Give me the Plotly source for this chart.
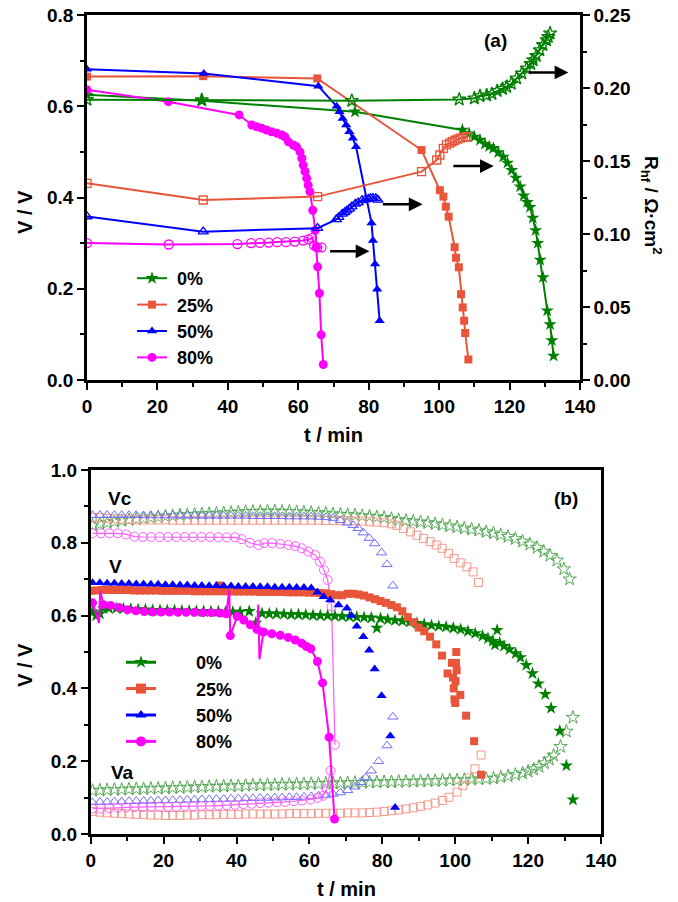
import plotly.graph_objects as go

W, H = 678, 902
FONT = "Liberation Sans, Arial, sans-serif"

# colours
C0, C25, C50, C80 = "#008000", "#E8553A", "#0000FF", "#FF00FF"
C0L, C25L, C50L, C80L = "#56A856", "#F29A8A", "#7070FF", "#FF5CFF"

LEG_NAMES = ["0%", "25%", "50%", "80%"]

# ---------------- panel (a): cell voltage (left) and Rhf (right) ----------------
a_v0_t = [0, 32.6, 76.1, 106.6, 108.5, 110, 111.6, 113, 114.2, 115.4, 116.8, 118.2, 119.4, 120.6,
          121.8, 123, 124, 125, 125.8, 126.6, 127.4, 128, 128.7, 129.5, 130.7, 131.5, 132, 132.5]
a_v0_v = [0.625, 0.612, 0.588, 0.548, 0.54, 0.533, 0.526, 0.517, 0.512, 0.508, 0.499, 0.489, 0.476, 0.46,
          0.443, 0.424, 0.404, 0.39, 0.379, 0.355, 0.328, 0.30, 0.263, 0.225, 0.152, 0.122, 0.087, 0.053]
a_r0_t = [0, 32.6, 75.2, 105.7, 110, 111.6, 113.5, 115, 116.5, 118, 119.2, 120.5, 122, 123.5,
          124.9, 126, 126.7, 127.6, 128.6, 129.5, 130.5, 131, 131.5]
a_r0_r = [0.192, 0.1918, 0.1913, 0.1922, 0.193, 0.1945, 0.195, 0.196, 0.198, 0.1995, 0.2009, 0.203, 0.2066, 0.210,
          0.2135, 0.2165, 0.2192, 0.222, 0.226, 0.2295, 0.2329, 0.235, 0.2375]

a_v25_t = [0, 33, 65.4, 95.0, 100.2, 101.2, 101.9, 102.7, 104.4, 104.8, 105.6, 106.2, 106.7, 107.1, 107.4, 108.3]
a_v25_v = [0.665, 0.666, 0.661, 0.504, 0.416, 0.402, 0.38, 0.358, 0.291, 0.268, 0.247, 0.188, 0.159, 0.13, 0.103, 0.045]
a_r25_t = [0, 33, 65.5, 95, 99.3, 100.2, 101.2, 102.1, 103, 103.7, 104.5, 105.3, 106, 106.8, 107.5, 108]
a_r25_r = [0.1347, 0.1233, 0.1256, 0.1427, 0.1507, 0.1541, 0.1587, 0.161, 0.1622, 0.1632, 0.1642, 0.165,
           0.1657, 0.1662, 0.1664, 0.1666]

a_v50_t = [0, 33.2, 65.7, 70.9, 71.7, 72.6, 73.6, 74.5, 75.5, 76.4, 80.8, 81.2, 81.8, 82.4, 83.1]
a_v50_v = [0.681, 0.672, 0.644, 0.60, 0.588, 0.573, 0.559, 0.544, 0.53, 0.511, 0.344, 0.306, 0.254, 0.199, 0.13]
a_r50_t = [0, 33, 65.5, 70.8, 71.5, 72.5, 73.2, 73.8, 74.5, 75.2, 76.2, 77, 78.1, 79, 79.9, 80.5, 81.2, 82, 82.6]
a_r50_r = [0.112, 0.1016, 0.104, 0.110, 0.1115, 0.1138, 0.1148, 0.116, 0.1172, 0.1188, 0.1207, 0.1215, 0.123,
           0.1236, 0.124, 0.1244, 0.1246, 0.1244, 0.1234]

a_v80_t = [0, 23.1, 43.2, 46.8, 48.2, 49.6, 51, 52.4, 53.9, 55.3, 56.2, 57.2, 58.6, 59.5, 60.5, 61, 61.4,
           61.9, 62.4, 62.8, 63.3, 64.1, 64.8, 65.1, 65.5, 66, 66.5, 67.1]
a_v80_v = [0.636, 0.61, 0.581, 0.559, 0.555, 0.552, 0.548, 0.544, 0.541, 0.537, 0.533, 0.522, 0.515, 0.511,
           0.50, 0.486, 0.471, 0.457, 0.442, 0.427, 0.413, 0.372, 0.328, 0.291, 0.248, 0.19, 0.099, 0.034]
a_r80_t = [0, 23.2, 42.7, 46.6, 49.1, 51.6, 54, 56.5, 59, 61.4, 62.9, 63.9, 64.5, 65.4, 66.6]
a_r80_r = [0.0938, 0.0928, 0.0931, 0.0938, 0.0939, 0.0941, 0.0944, 0.0944, 0.0948, 0.0955, 0.0963, 0.0973,
           0.0921, 0.0909, 0.0909]

# arrows pointing to the right axis (tail t, head t, V level)
arrow_t0 = [125.0, 103.6, 83.6, 68.6]
arrow_t1 = [136.7, 115.5, 95.3, 80.2]
arrow_v = [0.674, 0.469, 0.385, 0.282]

# ---------------- panel (b): V, Vc, Va ----------------
b_v0_t = [0.5, 1.5, 2.5, 3.5, 5, 7, 9, 11, 13, 15, 17, 19, 21, 23, 25, 27, 29, 31, 33, 35, 37, 39, 41, 43.5, 45.3,
          47, 49, 51, 53, 55, 57, 59, 61, 63, 65, 67, 69, 71, 73, 75, 77, 78.5, 79.5, 81.5, 83.5, 85.5, 87.5, 89.5,
          91.5, 93.5, 95.5, 97.5, 99.5, 101.5, 103.5, 105.5, 107.5, 109, 110.3, 110.9, 111.5, 112.2, 113.4, 114.9,
          116.6, 117.9, 119.5, 121.2, 122.8, 124.7, 126.3, 128.7, 130.5, 132.3]
b_v0_v = [0.61, 0.60, 0.605, 0.62, 0.62, 0.62, 0.619, 0.618, 0.617, 0.616, 0.615, 0.615, 0.614, 0.614, 0.613,
          0.613, 0.612, 0.612, 0.611, 0.611, 0.61, 0.61, 0.61, 0.612, 0.58, 0.606, 0.605, 0.605, 0.604, 0.603,
          0.603, 0.602, 0.601, 0.60, 0.60, 0.599, 0.598, 0.597, 0.596, 0.595, 0.594, 0.566, 0.592, 0.589, 0.587,
          0.585, 0.582, 0.579, 0.576, 0.573, 0.571, 0.569, 0.566, 0.562, 0.557, 0.551, 0.544, 0.537, 0.53, 0.52,
          0.56, 0.525, 0.516, 0.507, 0.496, 0.485, 0.464, 0.441, 0.413, 0.384, 0.346, 0.283, 0.188, 0.094]
b_vc0_t = [0.5, 2.5, 4.5, 6.5, 8.5, 10.5, 12.5, 14.5, 16.5, 18.5, 20.5, 22.5, 24.5, 26.5, 28.5, 30.5, 32.5, 34.5,
           36.5, 38.5, 40.5, 42.5, 44.5, 46.5, 48.5, 50.5, 52.5, 54.5, 56.5, 58.5, 60.5, 62.5, 64.5, 66.5, 68.5,
           70.5, 72.5, 74.5, 76.5, 78.5, 80.5, 82.5, 84.5, 86.5, 88.5, 90.5, 92.5, 94.5, 96.5, 98.5, 100.5, 102.5,
           104.5, 106.5, 108.5, 110.5, 112.5, 114.5, 116.5, 118.5, 120.5, 122.5, 124.3, 126, 127.9, 129.8, 131.4]
b_vc0_v = [0.848, 0.852, 0.855, 0.858, 0.861, 0.863, 0.865, 0.867, 0.869, 0.871, 0.873, 0.874, 0.876, 0.877,
           0.878, 0.879, 0.88, 0.881, 0.882, 0.883, 0.884, 0.885, 0.886, 0.886, 0.887, 0.887, 0.886, 0.886, 0.885,
           0.884, 0.883, 0.882, 0.881, 0.879, 0.878, 0.877, 0.876, 0.874, 0.873, 0.871, 0.869, 0.866, 0.863,
           0.861, 0.859, 0.857, 0.855, 0.852, 0.849, 0.846, 0.843, 0.840, 0.837, 0.834, 0.830, 0.826, 0.822,
           0.817, 0.811, 0.804, 0.796, 0.787, 0.776, 0.765, 0.752, 0.728, 0.70]
b_va0_t = [0.5, 2.5, 4.5, 6.5, 8.5, 10.5, 12.5, 14.5, 16.5, 18.5, 20.5, 22.5, 24.5, 26.5, 28.5, 30.5, 32.5, 34.5,
           36.5, 38.5, 40.5, 42.5, 44.5, 46.5, 48.5, 50.5, 52.5, 54.5, 56.5, 58.5, 60.5, 62.5, 64.5, 66.5, 68.5,
           70.5, 72.5, 74.5, 76.5, 78.5, 80.5, 82.5, 84.5, 86.5, 88.5, 90.5, 92.5, 94.5, 96.5, 98.5, 100.5, 102.5,
           104.5, 106.5, 108.5, 110.5, 112.5, 114.5, 116.5, 118.5, 120, 121.5, 123, 124.5, 125.8, 127, 128.9,
           130.5, 132.3]
b_va0_v = [0.119, 0.12, 0.121, 0.122, 0.122, 0.123, 0.124, 0.124, 0.125, 0.125, 0.126, 0.127, 0.127, 0.128,
           0.129, 0.129, 0.13, 0.131, 0.131, 0.132, 0.132, 0.133, 0.134, 0.134, 0.135, 0.135, 0.136, 0.136, 0.137,
           0.137, 0.138, 0.138, 0.139, 0.139, 0.14, 0.14, 0.141, 0.141, 0.142, 0.142, 0.143, 0.143, 0.144, 0.144,
           0.145, 0.145, 0.146, 0.146, 0.147, 0.148, 0.148, 0.149, 0.15, 0.151, 0.152, 0.153, 0.156, 0.159, 0.163,
           0.167, 0.172, 0.178, 0.185, 0.195, 0.205, 0.216, 0.24, 0.282, 0.32]

b_v25_t = [0, 1.5, 3, 4.5, 6, 7.5, 9, 10.5, 12, 13.5, 15, 16.5, 18, 19.5, 21, 22.5, 24, 25.5, 27, 28.5, 30, 31.5,
           33, 34.5, 35.2, 36, 37.5, 39, 40.5, 42, 43.5, 45, 46.5, 48, 49.5, 51, 52.5, 54, 55.5, 57, 58.5, 60, 61.5,
           63, 64.5, 66, 67.5, 69, 70.5, 72, 73.5, 75, 76.5, 78, 79.5, 81, 82.5, 84, 85.5, 87, 88.5, 90, 91.5, 93.1,
           94.8, 96.4, 97.9, 99.1, 99.4, 99.6, 99.8, 100, 100.1, 100.2, 100.3, 100.4, 101.4, 103, 105.2, 107.1]
b_v25_v = [0.668, 0.669, 0.67, 0.67, 0.67, 0.67, 0.67, 0.67, 0.669, 0.669, 0.669, 0.669, 0.669, 0.668, 0.668,
           0.668, 0.668, 0.668, 0.668, 0.667, 0.667, 0.667, 0.667, 0.667, 0.683, 0.667, 0.667, 0.666, 0.666, 0.666,
           0.666, 0.666, 0.665, 0.665, 0.665, 0.665, 0.665, 0.664, 0.664, 0.664, 0.664, 0.663, 0.663, 0.662, 0.661,
           0.659, 0.656, 0.656, 0.66, 0.66, 0.658, 0.655, 0.65, 0.645, 0.64, 0.635, 0.629, 0.623, 0.612, 0.596,
           0.582, 0.567, 0.557, 0.542, 0.521, 0.49, 0.441, 0.47, 0.43, 0.40, 0.37, 0.36, 0.42, 0.47, 0.50, 0.45,
           0.382, 0.325, 0.255, 0.163]
b_vc25_t = [0.5, 2.5, 4.5, 6.5, 8.5, 10.5, 12.5, 14.5, 16.5, 18.5, 20.5, 22.5, 24.5, 26.5, 28.5, 30.5, 32.5, 34.5,
            36.5, 38.5, 40.5, 42.5, 44.5, 46.5, 48.5, 50.5, 52.5, 54.5, 56.5, 58.5, 60.5, 62.5, 64.5, 66.5, 68.5,
            70.5, 72.5, 74.5, 76.5, 78.5, 80.5, 82.5, 84, 85.8, 87.7, 89.5, 91.3, 93.1, 94.8, 96.4, 98.2, 99.7,
            101.4, 103.2, 104.9, 106.4]
b_vc25_v = [0.870, 0.869, 0.867, 0.866, 0.865, 0.864, 0.863, 0.863, 0.863, 0.863, 0.863, 0.862, 0.862, 0.862,
            0.862, 0.862, 0.862, 0.862, 0.862, 0.862, 0.862, 0.862, 0.862, 0.862, 0.862, 0.862, 0.862, 0.862,
            0.862, 0.862, 0.862, 0.862, 0.861, 0.861, 0.861, 0.861, 0.86, 0.86, 0.858, 0.857, 0.855, 0.852,
            0.848, 0.839, 0.83, 0.821, 0.812, 0.803, 0.794, 0.785, 0.771, 0.757, 0.745, 0.734, 0.72, 0.691]
b_va25_t = [0.5, 2.5, 4.5, 6.5, 8.5, 10.5, 12.5, 14.5, 16.5, 18.5, 20.5, 22.5, 24.5, 26.5, 28.5, 30.5, 32.5, 34.5,
            36.5, 38.5, 40.5, 42.5, 44.5, 46.5, 48.5, 50.5, 52.5, 54.5, 56.5, 58.5, 60.5, 62.5, 64.5, 66.5, 68.5,
            70.5, 72.5, 74.5, 76.5, 78.5, 80.5, 82.5, 84.5, 86.5, 88.5, 90.5, 92.5, 94.5, 96.5, 98.3, 100.5, 102.1,
            103.9, 105.4, 107.1]
b_va25_v = [0.062, 0.06, 0.058, 0.057, 0.056, 0.055, 0.054, 0.053, 0.052, 0.052, 0.051, 0.051, 0.051, 0.052,
            0.052, 0.053, 0.053, 0.053, 0.054, 0.054, 0.054, 0.055, 0.055, 0.055, 0.055, 0.055, 0.055, 0.056,
            0.056, 0.056, 0.056, 0.057, 0.057, 0.057, 0.057, 0.058, 0.058, 0.058, 0.059, 0.06, 0.062, 0.064, 0.066,
            0.069, 0.072, 0.076, 0.08, 0.085, 0.092, 0.101, 0.115, 0.133, 0.154, 0.179, 0.217]

b_v50_t = [0.5, 2.5, 4.5, 6.5, 8.5, 10.5, 12.5, 14.5, 16.5, 18.5, 20.5, 22.5, 24.5, 26.5, 28.5, 30.5, 32.5, 34.5,
           36.5, 38.5, 40.5, 42.5, 44.5, 46.5, 48.5, 50.5, 52.5, 54.5, 56.5, 58.5, 60.5, 62.2, 63.9, 65.7, 68,
           70.3, 71.5, 73, 74.8, 76.4, 77.9, 79.8, 82.2, 83.5]
b_v50_v = [0.69, 0.69, 0.689, 0.689, 0.688, 0.688, 0.687, 0.687, 0.686, 0.686, 0.685, 0.685, 0.684, 0.684, 0.683,
           0.683, 0.682, 0.682, 0.681, 0.681, 0.68, 0.68, 0.68, 0.679, 0.679, 0.678, 0.678, 0.678, 0.677, 0.677,
           0.676, 0.664, 0.652, 0.643, 0.629, 0.62, 0.60, 0.571, 0.542, 0.505, 0.453, 0.38, 0.269, 0.073]
b_vc50_t = [0.5, 2.5, 4.5, 6.5, 8.5, 10.5, 12.5, 14.5, 16.5, 18.5, 20.5, 22.5, 24.5, 26.5, 28.5, 30.5, 32.5, 34.5,
            36.5, 38.5, 40.5, 42.5, 44.5, 46.5, 48.5, 50.5, 52.5, 54.5, 56.5, 58.5, 60.5, 62.5, 64.5, 66.5, 68.5,
            70.3, 72, 73.4, 74.8, 76.4, 77.9, 79.8, 81.3, 82.9]
b_vc50_v = [0.876, 0.876, 0.876, 0.876, 0.876, 0.876, 0.876, 0.875, 0.875, 0.875, 0.875, 0.875, 0.875, 0.875,
            0.875, 0.874, 0.874, 0.874, 0.874, 0.874, 0.874, 0.874, 0.873, 0.873, 0.873, 0.873, 0.873, 0.872,
            0.872, 0.872, 0.872, 0.871, 0.87, 0.868, 0.862, 0.855, 0.848, 0.84, 0.828, 0.813, 0.798, 0.773,
            0.741, 0.682]
b_va50_t = [0.5, 2.5, 4.5, 6.5, 8.5, 10.5, 12.5, 14.5, 16.5, 18.5, 20.5, 22.5, 24.5, 26.5, 28.5, 30.5, 32.5, 34.5,
            36.5, 38.5, 40.5, 42.5, 44.5, 46.5, 48.5, 50.5, 52.5, 54.5, 56.5, 58.5, 60.5, 62.5, 64.5, 66.5, 68.5,
            70.5, 72.5, 74, 75.5, 77, 79, 81.3, 82.9]
b_va50_v = [0.087, 0.088, 0.088, 0.089, 0.089, 0.09, 0.09, 0.091, 0.091, 0.092, 0.092, 0.093, 0.093, 0.094,
            0.094, 0.095, 0.095, 0.096, 0.096, 0.097, 0.097, 0.098, 0.098, 0.099, 0.099, 0.1, 0.1, 0.101, 0.101,
            0.102, 0.103, 0.105, 0.107, 0.11, 0.114, 0.12, 0.13, 0.142, 0.155, 0.174, 0.20, 0.243, 0.322]

b_v80_t = [0.5, 3.5, 5.5, 7.8, 10.1, 12.4, 14.7, 17, 19.3, 21.6, 23.9, 26.2, 28.5, 30.8, 33.1, 35.4, 37.2, 38.3,
           40.2, 42, 43.8, 45.6, 47.4, 49.7, 52, 54.2, 56.1, 57.9, 59.2, 60.4, 62.2, 63.6, 65.4, 66.9]
b_v80_v = [0.635, 0.63, 0.628, 0.622, 0.616, 0.613, 0.611, 0.61, 0.61, 0.61, 0.609, 0.609, 0.609, 0.608, 0.608,
           0.607, 0.605, 0.545, 0.598, 0.588, 0.575, 0.562, 0.555, 0.55, 0.546, 0.54, 0.533, 0.524, 0.515, 0.509,
           0.474, 0.415, 0.266, 0.041]
b_v80_spike_t = [2.3, 2.6, 38.0, 46.0, 46.3]
b_v80_spike_v = [0.58, 0.668, 0.67, 0.63, 0.48]
b_vc80_t = [0.5, 2.8, 5.1, 7.4, 9.7, 12, 14.3, 16.6, 18.9, 21.2, 23.5, 25.8, 28.1, 30.4, 32.7, 35, 37.3, 39.6,
            41.4, 43.7, 46, 47.6, 49.7, 52, 54.2, 56.1, 57.9, 59.7, 61.6, 62.9, 64, 65, 66.1, 67.0]
b_vc80_v = [0.826, 0.826, 0.826, 0.826, 0.823, 0.817, 0.816, 0.816, 0.816, 0.816, 0.816, 0.816, 0.816, 0.816,
            0.816, 0.815, 0.815, 0.815, 0.81, 0.80, 0.794, 0.799, 0.799, 0.797, 0.794, 0.791, 0.785, 0.776,
            0.766, 0.748, 0.725, 0.698, 0.625, 0.245]
b_va80_t = [0.5, 2.8, 5.1, 7.4, 9.7, 12, 14.3, 16.6, 18.9, 21.2, 23.5, 25.8, 28.1, 30.4, 32.7, 35, 37.3, 39.6,
            41.9, 44.2, 46.5, 48.8, 51.1, 53.4, 55.7, 58, 60.3, 62.2, 63.8, 64.8, 65.8]
b_va80_v = [0.07, 0.07, 0.071, 0.072, 0.073, 0.074, 0.074, 0.075, 0.075, 0.075, 0.075, 0.076, 0.076, 0.077,
            0.077, 0.078, 0.079, 0.08, 0.082, 0.083, 0.085, 0.086, 0.087, 0.088, 0.09, 0.092, 0.095, 0.099,
            0.105, 0.125, 0.174]

# ---------------- geometry (window pixels -> paper) ----------------
def px(x):
    return x / W

def py(y):
    return 1 - y / H

XA = [px(87), px(580)]
YA = [py(380), py(15)]
XB = [px(90.7), px(601)]
YB = [py(834), py(470)]

fig = go.Figure()

# panel (a) traces
a_sets = [
    (a_v0_t, a_v0_v, a_r0_t, a_r0_r, C0, "star"),
    (a_v25_t, a_v25_v, a_r25_t, a_r25_r, C25, "square"),
    (a_v50_t, a_v50_v, a_r50_t, a_r50_r, C50, "triangle-up"),
    (a_v80_t, a_v80_v, a_r80_t, a_r80_r, C80, "circle"),
]
a_msize = {"star": 10, "square": 8, "triangle-up": 9, "circle": 9}
for i, (vt, vv, rt, rr, col, sym) in enumerate(a_sets):
    fig.add_trace(go.Scatter(
        x=vt, y=vv, mode="lines+markers", name="\u00a0" + LEG_NAMES[i], legend="legend",
        legendgroup="a" + str(i),
        line=dict(color=col, width=2), marker=dict(symbol=sym, size=a_msize[sym], color=col),
        xaxis="x", yaxis="y"))
    fig.add_trace(go.Scatter(
        x=rt, y=rr, mode="lines+markers", showlegend=False,
        line=dict(color=col, width=2),
        marker=dict(symbol=sym + "-open", size=a_msize[sym], color=col, line=dict(width=1.3)),
        xaxis="x", yaxis="y2"))

# panel (b) traces
b_open = [
    (b_vc0_t, b_vc0_v, b_va0_t, b_va0_v, C0L, "star-open", 10),
    (b_vc25_t, b_vc25_v, b_va25_t, b_va25_v, C25L, "square-open", 8),
    (b_vc50_t, b_vc50_v, b_va50_t, b_va50_v, C50L, "triangle-up-open", 9),
]
for vct, vcv, vat, vav, col, sym, sz in b_open:
    for tt, vv in ((vct, vcv), (vat, vav)):
        fig.add_trace(go.Scatter(
            x=tt, y=vv, mode="markers", showlegend=False,
            marker=dict(symbol=sym, size=sz, color=col, line=dict(width=1)),
            xaxis="x2", yaxis="y3"))
for tt, vv in ((b_vc80_t, b_vc80_v), (b_va80_t, b_va80_v)):
    fig.add_trace(go.Scatter(
        x=tt, y=vv, mode="lines+markers", showlegend=False,
        line=dict(color=C80L, width=1.2),
        marker=dict(symbol="circle-open", size=9, color=C80L, line=dict(width=1)),
        xaxis="x2", yaxis="y3"))

b_filled = [
    (b_v0_t, b_v0_v, C0, "star", 10),
    (b_v25_t, b_v25_v, C25, "square", 8),
    (b_v50_t, b_v50_v, C50, "triangle-up", 9),
]
for tt, vv, col, sym, sz in b_filled:
    fig.add_trace(go.Scatter(
        x=tt, y=vv, mode="markers", showlegend=False,
        marker=dict(symbol=sym, size=sz, color=col),
        xaxis="x2", yaxis="y3"))

# 80 % cell voltage: line through all samples (incl. spikes), markers on regular samples
line80 = sorted(zip(b_v80_t + b_v80_spike_t, b_v80_v + b_v80_spike_v))
fig.add_trace(go.Scatter(
    x=[p[0] for p in line80], y=[p[1] for p in line80], mode="lines", showlegend=False,
    line=dict(color=C80, width=2), xaxis="x2", yaxis="y3"))
fig.add_trace(go.Scatter(
    x=b_v80_t, y=b_v80_v, mode="markers", showlegend=False,
    marker=dict(symbol="circle", size=9, color=C80), xaxis="x2", yaxis="y3"))

# panel (b) legend entries
b_leg = [(C0, "star", "12px,6px"), (C25, "square", "12px,6px"), (C50, "triangle-up", "12px,6px"),
         (C80, "circle", "solid")]
for i, (col, sym, dash) in enumerate(b_leg):
    fig.add_trace(go.Scatter(
        x=[None], y=[None], mode="lines+markers",
        name="\u00a0\u00a0\u00a0\u00a0\u00a0\u00a0\u00a0" + LEG_NAMES[i],
        legend="legend2", legendgroup="b" + str(i),
        line=dict(color=col, width=3, dash=dash), marker=dict(symbol=sym, size=10, color=col),
        xaxis="x2", yaxis="y3"))

tickfont = dict(family=FONT, size=19, color="black", weight="bold")
titlefont = dict(family=FONT, size=20, color="black", weight="bold")

def xax(domain, anchor):
    return dict(domain=domain, anchor=anchor, range=[0, 140], dtick=20, tick0=0,
                ticks="outside", ticklen=7, tickwidth=2, tickcolor="black",
                showline=True, linewidth=2.5, linecolor="black", mirror=True,
                showgrid=False, zeroline=False, tickfont=tickfont, automargin=False,
                ticklabeloverflow="allow",
                minor=dict(dtick=10, ticks="outside", ticklen=4, tickwidth=2, tickcolor="black"))

def yax(domain, anchor, rng, dt, fmt, mirror):
    return dict(domain=domain, anchor=anchor, range=rng, dtick=dt, tick0=0, tickformat=fmt,
                ticks="outside", ticklen=7, tickwidth=2, tickcolor="black",
                showline=True, linewidth=2.5, linecolor="black", mirror=mirror,
                showgrid=False, zeroline=False, tickfont=tickfont, automargin=False,
                ticklabeloverflow="allow",
                minor=dict(dtick=dt / 2, ticks="outside", ticklen=4, tickwidth=2, tickcolor="black"))

y2 = yax(YA, "x", [0, 0.25], 0.05, ".2f", False)
y2.pop("domain")
y2.update(overlaying="y", side="right")

annotations = []
for t0, t1, v in zip(arrow_t0, arrow_t1, arrow_v):
    annotations.append(dict(x=t1, y=v, ax=t0, ay=v, xref="x", yref="y", axref="x", ayref="y",
                            text="", showarrow=True, arrowhead=2, arrowsize=1.1, arrowwidth=2.5,
                            arrowcolor="black"))
annfont = dict(family=FONT, size=19, color="black", weight="bold")
annotations += [
    dict(x=116, y=0.745, xref="x", yref="y", text="(a)", showarrow=False, font=annfont),
    dict(x=px(652), y=py(205), xref="paper", yref="paper", text="R<sub>hf</sub> / Ω·cm<sup>2</sup>",
         textangle=90, showarrow=False, font=annfont, xanchor="center", yanchor="middle"),
    dict(x=130.5, y=0.922, xref="x2", yref="y3", text="(b)", showarrow=False, font=annfont),
    dict(x=8, y=0.922, xref="x2", yref="y3", text="Vc", showarrow=False, font=annfont),
    dict(x=6.8, y=0.736, xref="x2", yref="y3", text="V", showarrow=False, font=annfont),
    dict(x=8.6, y=0.17, xref="x2", yref="y3", text="Va", showarrow=False, font=annfont),
    # axis titles
    dict(x=px(333), y=py(435), xref="paper", yref="paper", text="t / min", showarrow=False,
         font=titlefont, xanchor="center", yanchor="middle"),
    dict(x=px(346), y=py(889), xref="paper", yref="paper", text="t / min", showarrow=False,
         font=titlefont, xanchor="center", yanchor="middle"),
    dict(x=px(25), y=py(212), xref="paper", yref="paper", text="V / V", showarrow=False,
         textangle=-90, font=titlefont, xanchor="center", yanchor="middle"),
    dict(x=px(25), y=py(665), xref="paper", yref="paper", text="V / V", showarrow=False,
         textangle=-90, font=titlefont, xanchor="center", yanchor="middle"),
]

legfont = dict(family=FONT, size=18, color="black", weight="bold")
fig.update_layout(
    width=W, height=H, autosize=False,
    margin=dict(l=0, r=0, t=0, b=0, autoexpand=False),
    paper_bgcolor="white", plot_bgcolor="white",
    font=dict(family=FONT, color="black"),
    xaxis=xax(XA, "y"),
    yaxis=yax(YA, "x", [0, 0.8], 0.2, ".1f", False),
    yaxis2=y2,
    xaxis2=xax(XB, "y3"),
    yaxis3=yax(YB, "x2", [0, 1.0], 0.2, ".1f", True),
    legend=dict(x=px(132), y=py(260), xanchor="left", yanchor="top", font=legfont,
                bgcolor="rgba(0,0,0,0)", tracegroupgap=0, traceorder="normal"),
    legend2=dict(x=px(121), y=py(644), xanchor="left", yanchor="top", font=legfont,
                 bgcolor="rgba(0,0,0,0)", tracegroupgap=0, traceorder="normal"),
    annotations=annotations,
    showlegend=True,
)

# let the figure fill the browser window exactly (remove the page's default body margin)
fig.write_html("out.html", config={"displayModeBar": False},
               post_script="document.body.style.margin='0';document.body.style.overflow='hidden';")
